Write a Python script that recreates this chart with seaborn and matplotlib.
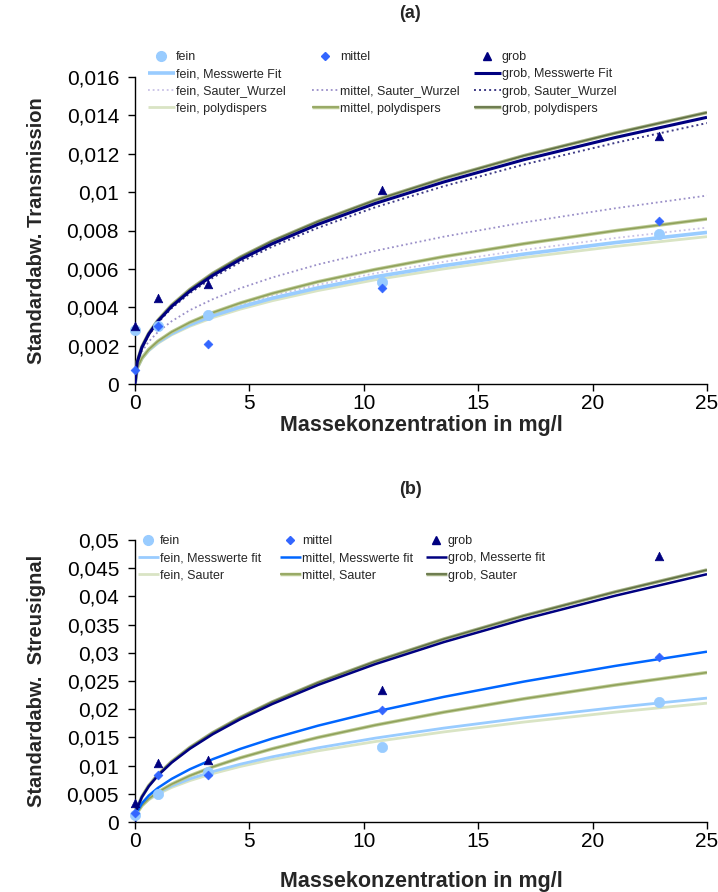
import matplotlib
matplotlib.use("Agg")
import matplotlib.pyplot as plt
import matplotlib.patheffects as pe
from matplotlib.lines import Line2D
import seaborn as sns

sns.set_theme(style="ticks")
plt.rcParams["font.family"] = ["Liberation Sans", "DejaVu Sans"]

# ---------------------------------------------------------------- Messwerte
konz = [0.0, 1.0, 3.2, 10.8, 22.9]                      # mg/l

trans_fein = [0.0028, 0.0030, 0.0036, 0.0053, 0.0078]
trans_mittel = [0.00075, 0.0030, 0.0021, 0.0050, 0.0085]
trans_grob = [0.0030, 0.0045, 0.0052, 0.0101, 0.0129]

streu_fein = [0.0012, 0.0049, 0.0089, 0.0133, 0.0213]
streu_mittel = [0.0016, 0.0083, 0.0084, 0.0199, 0.0293]
streu_grob = [0.0033, 0.0105, 0.0110, 0.0234, 0.0472]

# --------------------------------------------- Kurven (Fit / Modell), Stuetzstellen
kurve_x = [0, 0.1, 0.3, 0.6, 1, 1.6, 2.4, 3.4, 4.6, 6, 8, 10.5, 13.5, 17, 21, 25]

t_fein_fit = [0, 0.00087, 0.00135, 0.00178, 0.00218, 0.00263, 0.00309, 0.00356,
              0.00401, 0.00447, 0.00501, 0.00559, 0.00617, 0.00677, 0.00737, 0.00790]
t_grob_fit = [0, 0.00116, 0.00190, 0.00260, 0.00327, 0.00404, 0.00484, 0.00566,
              0.00649, 0.00731, 0.00832, 0.00941, 0.01053, 0.01169, 0.01285, 0.01390]
t_fein_sauter = [0, 0.00090, 0.00139, 0.00183, 0.00225, 0.00272, 0.00319, 0.00367,
                 0.00414, 0.00461, 0.00517, 0.00577, 0.00637, 0.00699, 0.00761, 0.00815]
t_mittel_sauter = [0, 0.00108, 0.00168, 0.00221, 0.00271, 0.00327, 0.00385, 0.00442,
                   0.00499, 0.00555, 0.00623, 0.00694, 0.00768, 0.00842, 0.00916, 0.00982]
t_grob_sauter = [0, 0.00113, 0.00186, 0.00254, 0.00320, 0.00395, 0.00474, 0.00554,
                 0.00635, 0.00716, 0.00814, 0.00921, 0.01031, 0.01144, 0.01257, 0.01360]
t_fein_poly = [0, 0.00084, 0.00131, 0.00173, 0.00212, 0.00256, 0.00301, 0.00346,
               0.00390, 0.00434, 0.00487, 0.00543, 0.00600, 0.00659, 0.00717, 0.00768]
t_mittel_poly = [0, 0.00085, 0.00134, 0.00180, 0.00223, 0.00271, 0.00321, 0.00372,
                 0.00422, 0.00472, 0.00533, 0.00597, 0.00664, 0.00731, 0.00799, 0.00860]
t_grob_poly = [0, 0.00118, 0.00194, 0.00264, 0.00332, 0.00411, 0.00493, 0.00577,
               0.00661, 0.00745, 0.00847, 0.00958, 0.01072, 0.01190, 0.01308, 0.01415]

s_fein_fit = [0, 0.00183, 0.00300, 0.00410, 0.00516, 0.00638, 0.00765, 0.00895,
              0.01025, 0.01156, 0.01315, 0.01487, 0.01665, 0.01847, 0.02031, 0.02197]
s_mittel_fit = [0, 0.00191, 0.00331, 0.00468, 0.00604, 0.00764, 0.00936, 0.01114,
                0.01296, 0.01480, 0.01708, 0.01957, 0.02219, 0.02490, 0.02768, 0.03020]
s_grob_fit = [0, 0.00249, 0.00441, 0.00632, 0.00824, 0.01052, 0.01299, 0.01557,
              0.01822, 0.02092, 0.02430, 0.02799, 0.03190, 0.03596, 0.04013, 0.04394]
s_fein_sauter = [0, 0.00176, 0.00288, 0.00394, 0.00495, 0.00612, 0.00734, 0.00859,
                 0.00984, 0.01109, 0.01262, 0.01426, 0.01597, 0.01772, 0.01948, 0.02107]
s_mittel_sauter = [0, 0.00168, 0.00290, 0.00411, 0.00530, 0.00670, 0.00821, 0.00977,
                   0.01137, 0.01298, 0.01499, 0.01717, 0.01947, 0.02185, 0.02429, 0.02650]
s_grob_sauter = [0, 0.00253, 0.00448, 0.00643, 0.00838, 0.01070, 0.01321, 0.01584,
                 0.01853, 0.02128, 0.02471, 0.02846, 0.03244, 0.03657, 0.04081, 0.04469]

# ---------------------------------------------------------------- Achsen
x_ticks = [0, 5, 10, 15, 20, 25]
x_ticklabels = ["0", "5", "10", "15", "20", "25"]
ya_ticks = [0, 0.002, 0.004, 0.006, 0.008, 0.010, 0.012, 0.014, 0.016]
ya_ticklabels = ["0", "0,002", "0,004", "0,006", "0,008", "0,01", "0,012", "0,014", "0,016"]
yb_ticks = [0, 0.005, 0.010, 0.015, 0.020, 0.025, 0.030, 0.035, 0.040, 0.045, 0.050]
yb_ticklabels = ["0", "0,005", "0,01", "0,015", "0,02", "0,025", "0,03", "0,035",
                 "0,04", "0,045", "0,05"]

# ---------------------------------------------------------------- Farben
C_FEIN = "#99CCFF"
C_MITTEL = "#3366FF"
C_MITTEL_FIT = "#0066FF"
C_GROB = "#000080"
C_SW_FEIN = "#C9C2E6"
C_SW_MITTEL = "#9A8FC8"
C_SW_GROB = "#3E3A86"
C_PD_FEIN = "#D9E4C4"
C_PD_MITTEL = "#8FA05A"
C_PD_MITTEL_EDGE = "#BCCB94"
C_PD_GROB = "#5E6E42"
C_PD_GROB_EDGE = "#A3B083"

DOT = (0, (1, 1.6))

W, H = 718, 892
fig = plt.figure(figsize=(W / 100, H / 100), dpi=100)


def box(left, top, right, bottom):
    return [left / W, 1 - bottom / H, (right - left) / W, (bottom - top) / H]


ax_a = fig.add_axes(box(135, 77, 707, 384))
ax_b = fig.add_axes(box(135, 540, 707, 822))


def curve(ax, y, color, lw, ls="-", edge=None, z=2):
    sns.lineplot(x=kurve_x, y=y, ax=ax, color=color, linewidth=lw,
                 sort=False, estimator=None, legend=False, zorder=z)
    ln = ax.lines[-1]
    ln.set_linestyle(ls)
    ln.set_solid_capstyle("butt")
    if edge is not None:
        ln.set_path_effects([pe.Stroke(linewidth=lw + 1.4, foreground=edge), pe.Normal()])
    return ln


def points(ax, y, marker, color, size):
    sns.scatterplot(x=konz, y=y, ax=ax, marker=marker, s=size, color=color,
                    edgecolor=color, linewidth=0.5, clip_on=False, zorder=6,
                    legend=False)


# ---------------------------------------------------------------- (a) Transmission
curve(ax_a, t_fein_poly, C_PD_FEIN, 2.0, z=2)
curve(ax_a, t_fein_sauter, C_SW_FEIN, 1.3, DOT, z=2)
curve(ax_a, t_fein_fit, C_FEIN, 2.6, z=3)
curve(ax_a, t_mittel_poly, C_PD_MITTEL, 1.1, edge=C_PD_MITTEL_EDGE, z=3)
curve(ax_a, t_mittel_sauter, C_SW_MITTEL, 1.3, DOT, z=3)
curve(ax_a, t_grob_sauter, C_SW_GROB, 1.4, DOT, z=3)
curve(ax_a, t_grob_poly, C_PD_GROB, 1.1, edge=C_PD_GROB_EDGE, z=3)
curve(ax_a, t_grob_fit, C_GROB, 2.2, z=4)

points(ax_a, trans_fein, "o", C_FEIN, 55)
points(ax_a, trans_mittel, "D", C_MITTEL, 20)
points(ax_a, trans_grob, "^", C_GROB, 38)

# ---------------------------------------------------------------- (b) Streusignal
curve(ax_b, s_fein_sauter, C_PD_FEIN, 2.0, z=2)
curve(ax_b, s_fein_fit, C_FEIN, 2.0, z=3)
curve(ax_b, s_mittel_sauter, C_PD_MITTEL, 1.1, edge=C_PD_MITTEL_EDGE, z=3)
curve(ax_b, s_mittel_fit, C_MITTEL_FIT, 1.8, z=4)
curve(ax_b, s_grob_sauter, C_PD_GROB, 1.1, edge=C_PD_GROB_EDGE, z=3)
curve(ax_b, s_grob_fit, C_GROB, 1.8, z=4)

points(ax_b, streu_fein, "o", C_FEIN, 55)
points(ax_b, streu_mittel, "D", C_MITTEL, 20)
points(ax_b, streu_grob, "^", C_GROB, 38)

# ---------------------------------------------------------------- Achsenformat
for ax, yt, ytl, ylab, xpad in [
        (ax_a, ya_ticks, ya_ticklabels, "Standardabw. Transmission", 1),
        (ax_b, yb_ticks, yb_ticklabels, "Standardabw.  Streusignal", 14)]:
    ax.set_xlim(0, 25)
    ax.set_ylim(yt[0], yt[-1])
    ax.set_xticks(x_ticks, x_ticklabels)
    ax.set_yticks(yt, ytl)
    ax.set_facecolor("white")
    for side in ("top", "right"):
        ax.spines[side].set_visible(False)
    for side in ("left", "bottom"):
        ax.spines[side].set_color("black")
        ax.spines[side].set_linewidth(1.0)
    ax.tick_params(axis="both", direction="out", length=5, width=1.0, color="black",
                   labelsize=15, labelcolor="black")
    ax.tick_params(axis="y", pad=6.5)
    ax.tick_params(axis="x", pad=2.5)
    ax.set_xlabel("Massekonzentration in mg/l", fontsize=15.5, fontweight="bold",
                  labelpad=xpad)
    ax.set_ylabel(ylab, fontsize=14.5, fontweight="bold", labelpad=15)
    ax.grid(False)

fig.text(410 / W, 1 - 14 / H, "(a)", ha="center", va="center", fontsize=13, fontweight="bold")
fig.text(410 / W, 1 - 490 / H, "(b)", ha="center", va="center", fontsize=13, fontweight="bold")


# ---------------------------------------------------------------- Legenden
def mark(marker, color, ms):
    return Line2D([], [], marker=marker, linestyle="none", color=color,
                  markeredgecolor=color, markersize=ms)


def seg(color, lw, ls="-", edge=None):
    ln = Line2D([], [], color=color, linewidth=lw, linestyle=ls, solid_capstyle="butt")
    if edge is not None:
        ln.set_path_effects([pe.Stroke(linewidth=lw + 1.4, foreground=edge), pe.Normal()])
    return ln


blank = Line2D([], [], linestyle="none")

legend_a = [
    [(mark("o", C_FEIN, 7), "fein"),
     (seg(C_FEIN, 2.6), "fein, Messwerte Fit"),
     (seg(C_SW_FEIN, 1.3, DOT), "fein, Sauter_Wurzel"),
     (seg(C_PD_FEIN, 2.0), "fein, polydispers")],
    [(mark("D", C_MITTEL, 4.5), "mittel"),
     (blank, " "),
     (seg(C_SW_MITTEL, 1.3, DOT), "mittel, Sauter_Wurzel"),
     (seg(C_PD_MITTEL, 1.1, edge=C_PD_MITTEL_EDGE), "mittel, polydispers")],
    [(mark("^", C_GROB, 6), "grob"),
     (seg(C_GROB, 2.2), "grob, Messwerte Fit"),
     (seg(C_SW_GROB, 1.4, DOT), "grob, Sauter_Wurzel"),
     (seg(C_PD_GROB, 1.1, edge=C_PD_GROB_EDGE), "grob, polydispers")],
]
legend_b = [
    [(mark("o", C_FEIN, 7), "fein"),
     (seg(C_FEIN, 2.0), "fein, Messwerte fit"),
     (seg(C_PD_FEIN, 2.0), "fein, Sauter")],
    [(mark("D", C_MITTEL, 4.5), "mittel"),
     (seg(C_MITTEL_FIT, 1.8), "mittel, Messwerte fit"),
     (seg(C_PD_MITTEL, 1.1, edge=C_PD_MITTEL_EDGE), "mittel, Sauter")],
    [(mark("^", C_GROB, 6), "grob"),
     (seg(C_GROB, 1.8), "grob, Messerte fit"),
     (seg(C_PD_GROB, 1.1, edge=C_PD_GROB_EDGE), "grob, Sauter")],
]

LEG_PT = 9
PX = 100 / 72


def column(entries, text_left, top, handle_px):
    hlen = handle_px / (LEG_PT * PX)
    left = text_left - handle_px - 0.1 * LEG_PT * PX
    fig.legend([h for h, _ in entries], [t for _, t in entries],
               loc="upper left", bbox_to_anchor=(left / W, 1 - top / H),
               frameon=False, fontsize=LEG_PT, handlelength=hlen, handletextpad=0.1,
               borderpad=0, borderaxespad=0, labelspacing=0.42, numpoints=1)


for entries, tx in zip(legend_a, [176, 340, 502]):
    column(entries, tx, 51, 27)
for entries, tx in zip(legend_b, [160, 302, 448]):
    column(entries, tx, 535, 21)

fig.savefig("out.png", dpi=100, facecolor="white")
